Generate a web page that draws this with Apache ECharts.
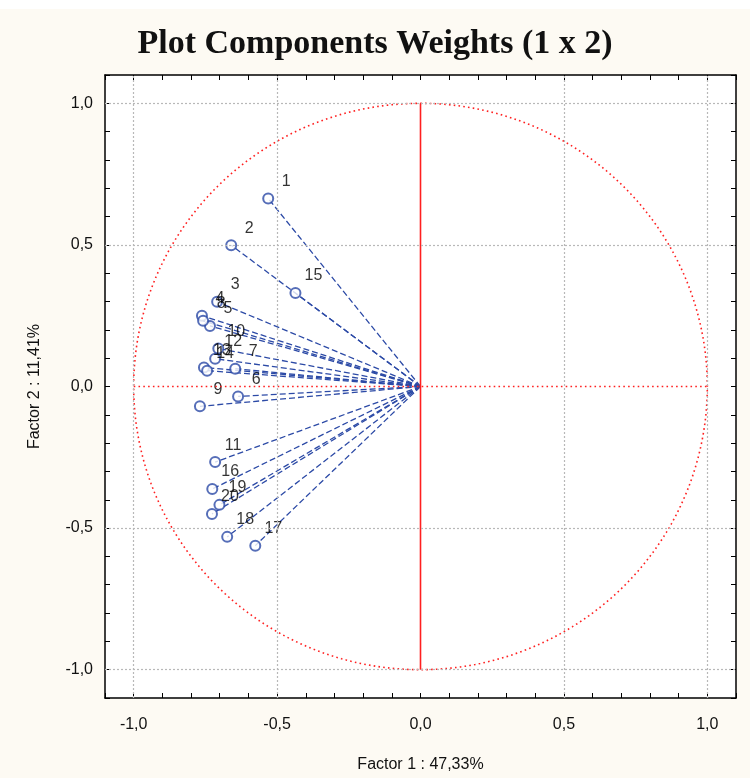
<!DOCTYPE html>
<html>
<head>
<meta charset="utf-8">
<script src="https://cdn.jsdelivr.net/npm/echarts@6/dist/echarts.min.js"></script>
<style>
html,body{margin:0;padding:0;background:#fdfaf3;}
#chart{width:750px;height:778px;}
</style>
</head>
<body>
<div id="chart"></div>
<script>
// Variable names and loadings (Factor 1, Factor 2)
var names = ['1','2','3','4','5','6','7','8','9','10','11','12','13','14','15','16','17','18','19','20'];
var factor1 = [-0.531,-0.660,-0.709,-0.762,-0.734,-0.636,-0.646,-0.758,-0.769,-0.705,-0.716,-0.716,-0.755,-0.744,-0.436,-0.726,-0.576,-0.674,-0.701,-0.727];
var factor2 = [0.664,0.499,0.299,0.250,0.214,-0.035,0.063,0.232,-0.070,0.134,-0.267,0.098,0.067,0.056,0.330,-0.362,-0.562,-0.531,-0.418,-0.450];
var gridValues = [-1.0,-0.5,0.5,1.0];
var titleText = 'Plot Components Weights (1 x 2)';
var xName = 'Factor 1 : 47,33%';
var yName = 'Factor 2 : 11,41%';

var pts = names.map(function(n,i){ return {name:n, value:[factor1[i], factor2[i]]}; });
var vecs = names.map(function(n,i){ return {coords:[[0,0],[factor1[i], factor2[i]]]}; });
var circle = [];
for (var a = 0; a <= 360; a += 1) {
  var t = a * Math.PI / 180;
  circle.push([Math.cos(t), Math.sin(t)]);
}

function fmt(v){
  var r = Math.round(v*10);
  if (r % 5 !== 0) return '';
  return (r/10).toFixed(1).replace('.', ',');
}

var labelFont = {fontFamily:'Liberation Sans', fontSize:16, color:'#111'};
function axisCommon(extra){
  var o = {
    type:'value', min:-1.1, max:1.1, interval:0.1,
    axisLine:{show:true, onZero:false, lineStyle:{color:'#000', width:1.5}},
    axisTick:{show:true, inside:true, length:5, lineStyle:{color:'#000', width:1}},
    splitLine:{show:false}
  };
  for (var k in extra) o[k] = extra[k];
  return o;
}

var chart = echarts.init(document.getElementById('chart'), null, {renderer:'canvas'});
chart.setOption({
  backgroundColor:'#fdfaf3',
  animation:false,
  graphic:[{type:'rect', left:0, top:0, shape:{width:750, height:9}, style:{fill:'#ffffff'}, z:-1}],
  title:{
    text:titleText, left:'center', top:22,
    textStyle:{fontFamily:'Liberation Serif', fontWeight:'bold', fontSize:34, color:'#111'}
  },
  grid:{left:105, right:14, top:75, bottom:78, show:true, backgroundColor:'#ffffff', borderWidth:0},
  xAxis:[
    axisCommon({position:'bottom', name:xName, nameLocation:'middle', nameGap:59,
      nameTextStyle:{fontFamily:'Liberation Sans', fontSize:16, color:'#111'},
      axisLabel:Object.assign({formatter:fmt, margin:19}, labelFont)}),
    axisCommon({position:'top', axisLabel:{show:false}})
  ],
  yAxis:[
    axisCommon({position:'left', name:yName, nameLocation:'middle', nameGap:62,
      nameTextStyle:{fontFamily:'Liberation Sans', fontSize:16, color:'#111'},
      axisLabel:Object.assign({formatter:fmt, margin:12}, labelFont)}),
    axisCommon({position:'right', axisLabel:{show:false}})
  ],
  series:[
    {
      type:'line', data:[], silent:true,
      markLine:{
        silent:true, symbol:'none', label:{show:false},
        lineStyle:{color:'#b8b8b8', type:[2,2], width:1.2},
        data: gridValues.map(function(v){return {xAxis:v};}).concat(gridValues.map(function(v){return {yAxis:v};}))
      }
    },
    {
      type:'line', data:circle, showSymbol:false, silent:true, smooth:false,
      lineStyle:{color:'#ff2020', width:1.6, type:[1.6,3.2]}
    },
    {
      type:'line', data:[[-1,0],[1,0]], showSymbol:false, silent:true,
      lineStyle:{color:'#ff2020', width:1.6, type:[1.6,3.2]}
    },
    {
      type:'line', data:[[0,-1],[0,1]], showSymbol:false, silent:true,
      lineStyle:{color:'#ff2020', width:1.6}
    },
    {
      type:'lines', coordinateSystem:'cartesian2d', data:vecs, silent:true,
      lineStyle:{color:'#2c4aa6', width:1.3, type:[6,3], opacity:1}
    },
    {
      type:'scatter', data:pts, symbol:'emptyCircle', symbolSize:10,
      itemStyle:{color:'#2c4aa6', borderColor:'#2c4aa6', borderWidth:1.4},
      label:{show:true, formatter:'{b}', position:[24,-11], align:'center', verticalAlign:'middle',
        fontFamily:'Liberation Sans', fontSize:16, color:'#000', textBorderWidth:0},
      labelLayout:{hideOverlap:false}
    }
  ]
});
</script>
</body>
</html>
